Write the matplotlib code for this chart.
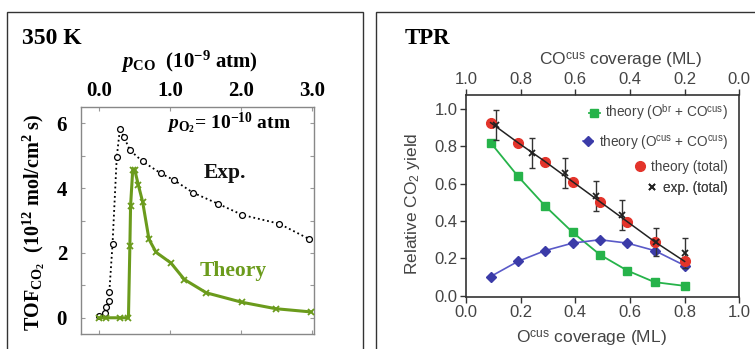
import matplotlib
matplotlib.use("Agg")
import matplotlib.pyplot as plt
from matplotlib.patches import Rectangle

plt.rcParams['mathtext.fontset'] = 'custom'
plt.rcParams['mathtext.rm'] = 'Liberation Serif:bold'
plt.rcParams['mathtext.it'] = 'Liberation Serif:italic:bold'
plt.rcParams['mathtext.bf'] = 'Liberation Serif:bold'
plt.rcParams['mathtext.sf'] = 'Liberation Sans'

# ---------------- Left panel data (350 K) ----------------
exp_p = [0.0, 0.075, 0.10, 0.13, 0.14, 0.185, 0.245, 0.29, 0.35, 0.43, 0.61, 0.87, 1.05, 1.32, 1.68, 2.02, 2.54, 2.96]
exp_tof = [0.05, 0.16, 0.33, 0.52, 0.79, 2.27, 4.96, 5.83, 5.56, 5.17, 4.82, 4.45, 4.25, 3.86, 3.51, 3.17, 2.90, 2.43]
th_p = [0.0, 0.10, 0.29, 0.41, 0.43, 0.44, 0.47, 0.50, 0.55, 0.61, 0.70, 0.80, 1.01, 1.20, 1.51, 2.01, 2.49, 2.99]
th_tof = [0.0, 0.0, 0.0, 0.0, 2.2, 3.45, 4.55, 4.55, 4.09, 3.58, 2.42, 2.02, 1.69, 1.18, 0.77, 0.48, 0.28, 0.18]
left_xticks = [0.0, 1.0, 2.0, 3.0]
left_yticks = [0, 2, 4, 6]

# ---------------- Right panel data (TPR) ----------------
ocus_cov = [0.09, 0.19, 0.29, 0.39, 0.49, 0.59, 0.69, 0.80]
y_obr = [0.82, 0.64, 0.48, 0.34, 0.22, 0.135, 0.073, 0.053]
y_ocus = [0.103, 0.184, 0.242, 0.282, 0.30, 0.282, 0.242, 0.162]
y_total = [0.927, 0.82, 0.718, 0.611, 0.504, 0.397, 0.29, 0.184]
exp_cov = [0.108, 0.243, 0.363, 0.474, 0.572, 0.694, 0.80]
exp_total = [0.914, 0.766, 0.656, 0.535, 0.433, 0.29, 0.228]
exp_err = [0.08, 0.08, 0.08, 0.08, 0.08, 0.075, 0.08]
right_ticks = [0.0, 0.2, 0.4, 0.6, 0.8, 1.0]
legend_labels = [r'theory (O$^{\mathsf{br}}$ + CO$^{\mathsf{cus}}$)',
                 r'theory (O$^{\mathsf{cus}}$ + CO$^{\mathsf{cus}}$)',
                 'theory (total)', 'exp. (total)']

GREEN_L = '#6b9b1c'
GREEN_R = '#26b34a'
BLUE = '#3b3ba8'
BLUE_LINE = '#5a5ac8'
RED = '#e3342b'
GREY_TXT = '#444444'

W, H = 755, 349
fig = plt.figure(figsize=(W / 100, H / 100), dpi=100)

def fx(px):
    return px / W

def fy(py):
    return 1 - py / H

# panel frames
fig.patches.append(Rectangle((fx(7), fy(360)), fx(363) - fx(7), fy(12) - fy(360),
                             transform=fig.transFigure, fill=False, ec='#333333', lw=1.0))
fig.patches.append(Rectangle((fx(376), fy(360)), fx(800) - fx(376), fy(12) - fy(360),
                             transform=fig.transFigure, fill=False, ec='#333333', lw=1.0))

# ================= Left panel =================
axL = fig.add_axes([fx(81), fy(334), fx(314) - fx(81), fy(107) - fy(334)])
serif = 'Liberation Serif'
axL.plot(exp_p, exp_tof, linestyle=(0, (1, 1.6)), color='black', lw=1.3,
         marker='o', ms=4.2, mfc='white', mec='black', mew=0.9, zorder=3)
axL.plot(th_p, th_tof, '-', color=GREEN_L, lw=2.2, marker='x', ms=4, mew=1.3,
         mec=GREEN_L, zorder=4)
axL.set_xlim(-0.26, 3.03)
axL.set_ylim(-0.5, 6.5)
for s in axL.spines.values():
    s.set_color('#888888')
    s.set_linewidth(1.0)
axL.set_xticks(left_xticks)
axL.set_yticks(left_yticks)
axL.set_yticks([1, 3, 5], minor=True)
axL.tick_params(axis='both', which='both', direction='in', color='#999999',
                length=3, width=0.8, top=True, bottom=True, left=True, right=True)
axL.tick_params(axis='x', labeltop=True, labelbottom=False, pad=4)
axL.tick_params(axis='y', pad=10)
axL.set_xticklabels([f'{v:.1f}' for v in left_xticks], fontfamily=serif,
                    fontweight='bold', fontsize=15)
axL.set_yticklabels([str(v) for v in left_yticks], fontfamily=serif,
                    fontweight='bold', fontsize=15)
fig.text(fx(189), fy(62), r'$p_{\mathrm{CO}}$  (10$^{-9}$ atm)', ha='center', va='center',
         fontsize=15, fontfamily=serif, fontweight='bold')
fig.text(fx(34), fy(222), r'TOF$_{\mathrm{CO}_2}$  (10$^{12}$ mol/cm$^2$ s)', ha='center',
         va='center', rotation=90, fontsize=14.5, fontfamily=serif, fontweight='bold')
fig.text(fx(22), fy(39), '350 K', ha='left', va='center', fontsize=17,
         fontfamily=serif, fontweight='bold')
axL.text(0.96, 6.0, r'$p_{\mathrm{O}_2}$= 10$^{-10}$ atm', ha='left', va='center',
         fontsize=14, fontfamily=serif, fontweight='bold')
axL.text(1.47, 4.45, 'Exp.', ha='left', va='center', fontsize=15.5,
         fontfamily=serif, fontweight='bold', color='#111111')
axL.text(1.42, 1.44, 'Theory', ha='left', va='center', fontsize=15.5,
         fontfamily=serif, fontweight='bold', color=GREEN_L)

# ================= Right panel =================
sans = 'Liberation Sans'
axR = fig.add_axes([fx(466), fy(296.7), fx(739.3) - fx(466), fy(95) - fy(296.7)])
l1, = axR.plot(ocus_cov, y_obr, '-', color=GREEN_R, lw=1.3, marker='s', ms=5.5,
               mfc=GREEN_R, mec=GREEN_R, zorder=3)
l2, = axR.plot(ocus_cov, y_ocus, '-', color=BLUE_LINE, lw=1.2, marker='D', ms=5,
               mfc=BLUE, mec=BLUE, zorder=3)
axR.errorbar(exp_cov, exp_total, yerr=exp_err, fmt='none', ecolor='#333333',
             elinewidth=1.0, capsize=2.5, capthick=1.0, zorder=4)
l3, = axR.plot(ocus_cov, y_total, 'o', color=RED, ms=7, mec=RED, zorder=4)
axR.plot(ocus_cov, y_total, '-', color='#222222', lw=1.1, zorder=5)
l4, = axR.plot(exp_cov, exp_total, 'x', color='#222222', ms=5, mew=1.3, zorder=6)
axR.set_xlim(0, 1)
axR.set_ylim(-0.005, 1.075)
axR.set_xticks(right_ticks)
axR.set_yticks(right_ticks)
axR.set_xticklabels([f'{v:.1f}' for v in right_ticks], fontfamily=sans, fontsize=12,
                    color=GREY_TXT)
axR.set_yticklabels([f'{v:.1f}' for v in right_ticks], fontfamily=sans, fontsize=12,
                    color=GREY_TXT)
axR.tick_params(axis='both', direction='out', length=4, width=1.0, color='#333333', pad=2)
for s in axR.spines.values():
    s.set_color('#333333')
    s.set_linewidth(1.2)
axR.set_xlabel(r'O$^{\mathsf{cus}}$ coverage (ML)', fontfamily=sans, fontsize=12.5,
               color=GREY_TXT)
axR.xaxis.set_label_coords(0.457, -0.16)
axR.set_ylabel(r'Relative CO$_{\mathsf{2}}$ yield', fontfamily=sans, fontsize=12.5,
               color=GREY_TXT, va='center')
axR.yaxis.set_label_coords(-0.194, 0.46)

axT = axR.twiny()
axT.set_xlim(1, 0)
axT.set_xticks(right_ticks)
axT.set_xticklabels([f'{v:.1f}' for v in right_ticks], fontfamily=sans, fontsize=12,
                    color=GREY_TXT)
axT.tick_params(axis='x', direction='out', length=4, width=1.0, color='#333333', pad=2)
for s in axT.spines.values():
    s.set_visible(False)
axT.set_xlabel(r'CO$^{\mathsf{cus}}$ coverage (ML)', fontfamily=sans, fontsize=12.5,
               color=GREY_TXT)
axT.xaxis.set_label_coords(0.567, 1.148)

# one right-aligned legend row per entry, as in the original
handles = [l1, l2, l3, l4]
row_y = [0.911, 0.767, 0.643, 0.539]
for h, lab, yy in zip(handles, legend_labels, row_y):
    lg = axR.legend([h], [lab], loc='center right', bbox_to_anchor=(0.9587, yy),
                    frameon=False, prop={'family': sans, 'size': 9.8},
                    handlelength=0.8, handletextpad=0.4, borderaxespad=0,
                    borderpad=0, labelcolor=GREY_TXT)
    axR.add_artist(lg)

fig.text(fx(405), fy(38), 'TPR', ha='left', va='center', fontsize=16.5,
         fontfamily=serif, fontweight='bold')

fig.savefig('out.png', dpi=100)
